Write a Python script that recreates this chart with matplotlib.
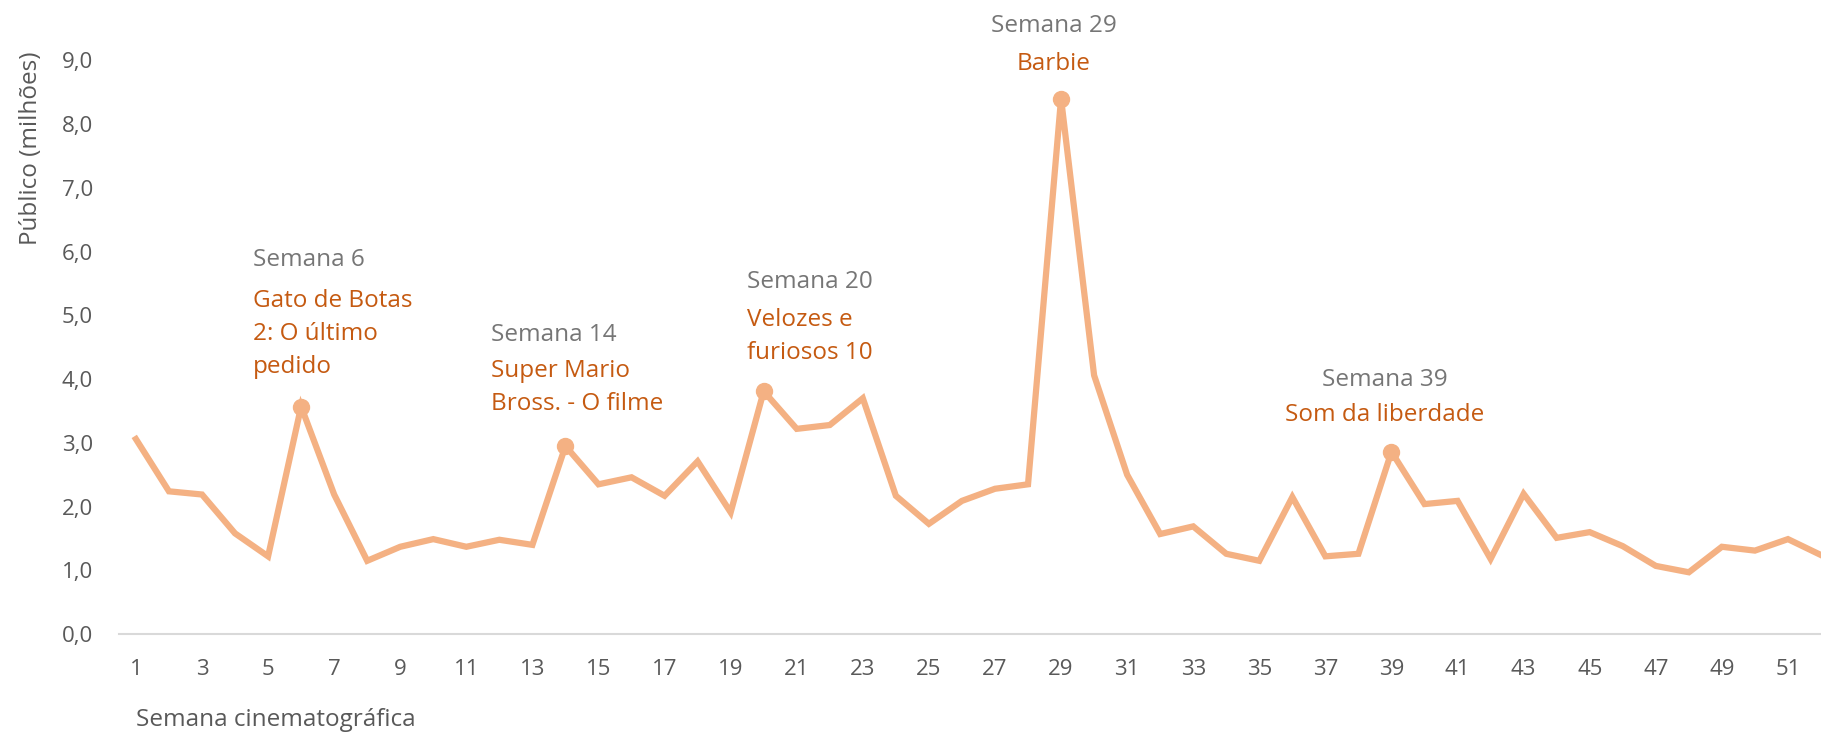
import matplotlib
matplotlib.use("Agg")
import matplotlib.pyplot as plt

# ---------- Data ----------
semanas = list(range(1, 53))
publico = [3.06, 2.24, 2.19, 1.58, 1.22, 3.57, 2.19, 1.15, 1.37, 1.49,
           1.37, 1.48, 1.40, 2.95, 2.35, 2.46, 2.17, 2.71, 1.91, 3.81,
           3.22, 3.28, 3.70, 2.17, 1.73, 2.09, 2.28, 2.35, 8.40, 4.06,
           2.50, 1.57, 1.69, 1.26, 1.15, 2.15, 1.22, 1.26, 2.86, 2.04,
           2.09, 1.18, 2.20, 1.51, 1.60, 1.38, 1.07, 0.97, 1.37, 1.31,
           1.49, 1.24]

destaques = [6, 14, 20, 29, 39]
filmes = ["Gato de Botas\n2: O último\npedido",
          "Super Mario\nBross. - O filme",
          "Velozes e\nfuriosos 10",
          "Barbie",
          "Som da liberdade"]

# label offsets (pixels) relative to the marker: dx, dy gray, dy film, align
label_pos = [(-48, 147, 73, "left"),
             (-74, 111, 59, "left"),
             (-17, 109, 55, "left"),
             (-7, 73, 35, "center"),
             (-7, 72, 37, "center")]

LINE = "#F4B183"
ORANGE = "#C55A11"
GRAY_TXT = "#767676"
TICK_TXT = "#595959"

plt.rcParams["font.family"] = ["Open Sans", "DejaVu Sans"]

W, H = 1821, 734
fig = plt.figure(figsize=(W / 100, H / 100), dpi=100)
x0 = 119.4 / W
y0 = (H - 634.1) / H
ax = fig.add_axes([x0, y0, 1 - x0, 9.5 * 63.74 / H])

ax.plot(semanas, publico, color=LINE, lw=4.5, solid_joinstyle="miter", clip_on=False)
ax.plot(destaques, [publico[s - 1] for s in destaques], "o", color=LINE,
        ms=11.5, clip_on=False)

for s, filme, (dx, dyg, dyf, ha) in zip(destaques, filmes, label_pos):
    y = publico[s - 1]
    ax.annotate(f"Semana {s}", xy=(s, y), xytext=(dx, dyg), textcoords="offset pixels",
                ha=ha, va="center", fontsize=17.5, color=GRAY_TXT)
    ax.annotate(filme, xy=(s, y), xytext=(dx, dyf), textcoords="offset pixels",
                ha=ha, va="center", fontsize=17.5, color=ORANGE, linespacing=1.5)

ax.set_xlim(0.5, 52)
ax.set_ylim(0, 9.5)
ax.set_xticks(range(1, 52, 2))
ax.set_yticks(range(0, 10))
ax.set_yticklabels([f"{v},0" for v in range(0, 10)])
ax.tick_params(axis="both", length=0, labelsize=16, labelcolor=TICK_TXT)
ax.tick_params(axis="x", pad=18)
ax.tick_params(axis="y", pad=19)

for side in ("top", "right", "left"):
    ax.spines[side].set_visible(False)
ax.spines["bottom"].set_color("#D9D9D9")
ax.spines["bottom"].set_linewidth(1.5)

fig.text(31 / W, 1 - 148 / H, "Público (milhões)", rotation=90, ha="center",
         va="center", fontsize=17.5, color=TICK_TXT)
fig.text(136 / W, 1 - 720 / H, "Semana cinematográfica", ha="left",
         va="center", fontsize=17.5, color=TICK_TXT)

fig.savefig("out.png", dpi=100)
